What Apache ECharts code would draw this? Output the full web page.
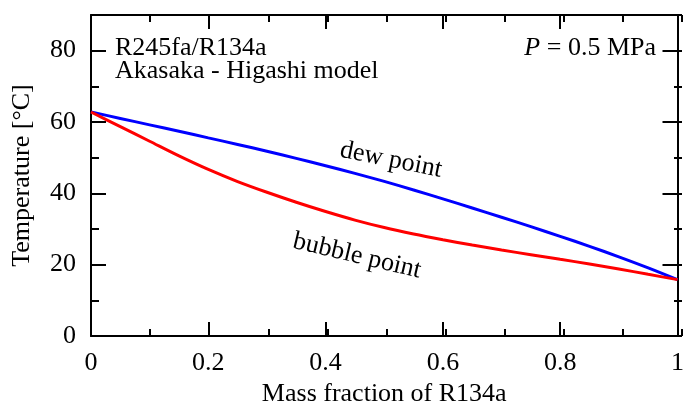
<!DOCTYPE html>
<html>
<head>
<meta charset="utf-8">
<script src="https://cdn.jsdelivr.net/npm/echarts@6/dist/echarts.min.js"></script>
<style>
  html, body { margin: 0; padding: 0; background: #fff; }
  #chart { width: 687px; height: 412px; }
</style>
</head>
<body>
<div id="chart"></div>
<script>
// Mass fraction of R134a in the R245fa/R134a mixture
const massFraction = [0, 0.05, 0.1, 0.15, 0.2, 0.25, 0.3, 0.35, 0.4, 0.45, 0.5,
                      0.55, 0.6, 0.65, 0.7, 0.75, 0.8, 0.85, 0.9, 0.95, 1];
// Dew-point temperature [°C]
const dewTemp = [62.8, 61.0, 59.2, 57.4, 55.55, 53.7, 51.8, 49.8, 47.75, 45.6, 43.35,
                 40.95, 38.45, 35.9, 33.3, 30.65, 27.95, 25.15, 22.2, 19.1, 15.8];
// Bubble-point temperature [°C]
const bubbleTemp = [62.8, 58.7, 54.6, 50.5, 46.7, 43.3, 40.3, 37.5, 34.9, 32.5, 30.4,
                    28.6, 27.0, 25.5, 24.1, 22.8, 21.5, 20.2, 18.8, 17.3, 15.8];

const FONT = "'Liberation Serif', 'Times New Roman', serif";
const INK = '#000';
const TEXT_SIZE = 26;

const pairs = (xs, ys) => xs.map((x, i) => [x, ys[i]]);

const chart = echarts.init(document.getElementById('chart'), null, { renderer: 'canvas' });

const lineStyle = { color: INK, width: 2 };
const noLabel = { show: false };
const plotRect = { left: 91, right: 5, top: 15, bottom: 76, containLabel: false };

// Frame sides: grid 0 carries the labelled axes and major ticks,
// grid 1 (same rectangle) carries only the minor ticks.
function xSide(gridIndex, position, interval, tickLen, withLine) {
  return {
    gridIndex, type: 'value', min: 0, max: 1, interval, position,
    axisLine: { show: withLine, onZero: false, lineStyle },
    axisTick: { show: true, inside: true, length: tickLen, lineStyle },
    axisLabel: noLabel, splitLine: { show: false }
  };
}
function ySide(gridIndex, position, interval, tickLen, withLine) {
  return {
    gridIndex, type: 'value', min: 0, max: 90, interval, position,
    axisLine: { show: withLine, onZero: false, lineStyle },
    axisTick: { show: true, inside: true, length: tickLen, lineStyle },
    axisLabel: noLabel, splitLine: { show: false }
  };
}

const option = {
  animation: false,
  backgroundColor: '#fff',
  grid: [Object.assign({}, plotRect), Object.assign({}, plotRect)],
  xAxis: [
    {
      gridIndex: 0, type: 'value', min: 0, max: 1, interval: 0.2, position: 'bottom',
      name: 'Mass fraction of R134a', nameLocation: 'middle', nameGap: 45,
      nameTextStyle: { fontFamily: FONT, fontSize: TEXT_SIZE, color: INK },
      axisLine: { show: true, onZero: false, lineStyle },
      axisTick: { show: true, inside: true, length: 14, lineStyle },
      axisLabel: { margin: 14, fontFamily: FONT, fontSize: TEXT_SIZE, color: INK },
      splitLine: { show: false }
    },
    xSide(0, 'top', 0.2, 14, true),
    xSide(1, 'bottom', 0.1, 7, false),
    xSide(1, 'top', 0.1, 7, false)
  ],
  yAxis: [
    {
      gridIndex: 0, type: 'value', min: 0, max: 90, interval: 20, position: 'left',
      name: 'Temperature [°C]', nameLocation: 'middle', nameGap: 56,
      nameTextStyle: { fontFamily: FONT, fontSize: TEXT_SIZE, color: INK },
      axisLine: { show: true, onZero: false, lineStyle },
      axisTick: { show: true, inside: true, length: 15, lineStyle },
      axisLabel: {
        margin: 15, fontFamily: FONT, fontSize: TEXT_SIZE, color: INK,
        formatter: v => (v % 20 === 0 ? String(v) : '')
      },
      splitLine: { show: false }
    },
    ySide(0, 'right', 20, 15, true),
    ySide(1, 'left', 10, 8, false),
    ySide(1, 'right', 10, 8, false)
  ],
  series: [
    {
      name: 'dew point', type: 'line', xAxisIndex: 0, yAxisIndex: 0,
      data: pairs(massFraction, dewTemp), smooth: 0.3,
      showSymbol: false, lineStyle: { color: '#0000ff', width: 3 }, z: 3
    },
    {
      name: 'bubble point', type: 'line', xAxisIndex: 0, yAxisIndex: 0,
      data: pairs(massFraction, bubbleTemp), smooth: 0.3,
      showSymbol: false, lineStyle: { color: '#ff0000', width: 3 }, z: 4
    }
  ],
  graphic: [
    {
      type: 'text', left: 115, top: 35,
      style: {
        text: 'R245fa/R134a\nAkasaka - Higashi model',
        fontFamily: FONT, fontSize: TEXT_SIZE, fill: INK, lineHeight: 23
      }
    },
    {
      type: 'text', right: 31, top: 35,
      style: {
        text: '{i|P} = 0.5 MPa',
        fontFamily: FONT, fontSize: TEXT_SIZE, fill: INK,
        rich: { i: { fontStyle: 'italic', fontFamily: FONT, fontSize: TEXT_SIZE, fill: INK } }
      }
    },
    {
      type: 'text', x: 391, y: 160, rotation: -11.5 * Math.PI / 180,
      style: {
        text: 'dew point', fontFamily: FONT, fontSize: TEXT_SIZE, fill: INK,
        align: 'center', verticalAlign: 'middle'
      }
    },
    {
      type: 'text', x: 357, y: 256, rotation: -13.4 * Math.PI / 180,
      style: {
        text: 'bubble point', fontFamily: FONT, fontSize: TEXT_SIZE, fill: INK,
        align: 'center', verticalAlign: 'middle'
      }
    }
  ]
};

chart.setOption(option);
</script>
</body>
</html>
